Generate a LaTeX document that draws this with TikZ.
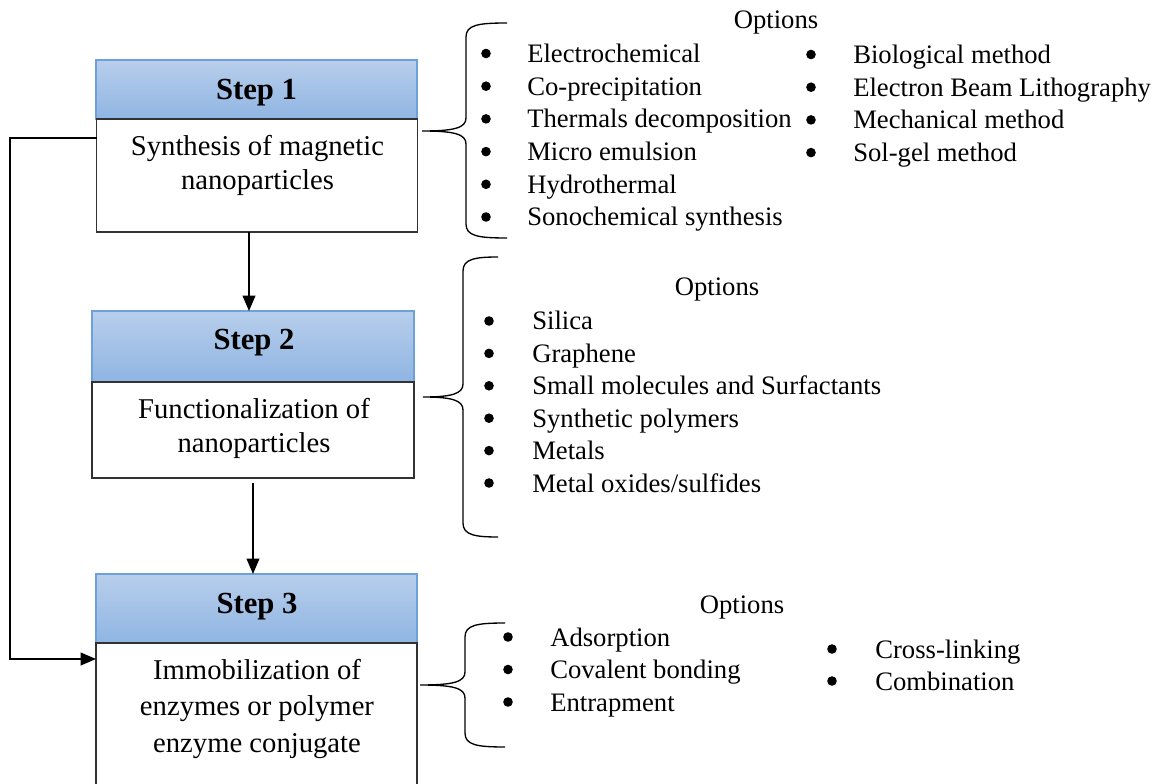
\documentclass[tikz,border=0pt]{standalone}
\usepackage{fontspec}
\setmainfont{Liberation Serif}
\usetikzlibrary{arrows.meta}
\definecolor{hdtop}{RGB}{184,206,235}
\definecolor{hdbot}{RGB}{143,181,227}
\definecolor{hdline}{RGB}{110,160,220}
\definecolor{boxline}{RGB}{50,50,50}
\newcommand\optbrace[6]{%
  \draw[bracep] (#1,#2) .. controls ({#3+12},#2) and (#3,{#2+2}) .. (#3,{#2+14})
    -- (#3,{#5-13}) .. controls (#3,{#5-3}) and ({#3-12},#5) .. (#4,#5)
    .. controls ({#3-12},#5) and (#3,{#5+3}) .. (#3,{#5+13})
    -- (#3,{#6-14}) .. controls (#3,{#6-2}) and ({#3+12},#6) .. (#1,#6);}
\begin{document}
\begin{tikzpicture}[x=0.75pt,y=-0.75pt,
  header/.style={draw=hdline, line width=0.8pt, top color=hdtop, bottom color=hdbot, inner sep=0, outer sep=0},
  bodybox/.style={draw=boxline, line width=0.9pt, fill=white, inner sep=0, outer sep=0},
  steptxt/.style={font=\fontsize{23}{27}\selectfont\bfseries, anchor=base, inner sep=0},
  bodytxt/.style={font=\fontsize{21.5}{26}\selectfont, anchor=base, inner sep=0},
  opttxt/.style={font=\fontsize{20}{24}\selectfont, anchor=base west, inner sep=0},
  opttitle/.style={font=\fontsize{20}{24}\selectfont, anchor=base, inner sep=0},
  conn/.style={line width=1.3pt, -{Triangle[length=11.5pt,width=9.5pt]}},
  bracep/.style={line width=1pt}
]
\useasboundingbox (0,0) rectangle (1154,784);
\clip (0,0) rectangle (1154,784);

% Step 1
\node[header, minimum width={321*0.75pt}, minimum height={59*0.75pt}] (h1) at (256.5,89.5) {};
\node[bodybox, minimum width={321*0.75pt}, minimum height={113*0.75pt}] (b1) at (257,175.5) {};
\node[steptxt] (s1) at (256.5,100) {Step 1};
\node[bodytxt] (t1a) at (257.5,156) {Synthesis of magnetic};
\node[bodytxt] (t1b) at (257.5,190) {nanoparticles};

% Step 2
\node[header, minimum width={322*0.75pt}, minimum height={71*0.75pt}] (h2) at (253,346.5) {};
\node[bodybox, minimum width={322*0.75pt}, minimum height={96*0.75pt}] (b2) at (253,430) {};
\node[steptxt] (s2) at (254,350) {Step 2};
\node[bodytxt] (t2a) at (254,419) {Functionalization of};
\node[bodytxt] (t2b) at (254,453) {nanoparticles};

% Step 3
\node[header, minimum width={321*0.75pt}, minimum height={69*0.75pt}] (h3) at (256.5,608.5) {};
\node[bodybox, minimum width={321*0.75pt}, minimum height={158*0.75pt}] (b3) at (256.5,722) {};
\node[steptxt] (s3) at (257,613) {Step 3};
\node[bodytxt] (t3a) at (257,679) {Immobilization of};
\node[bodytxt] (t3b) at (257,715) {enzymes or polymer};
\node[bodytxt] (t3c) at (257,752) {enzyme conjugate};

% connectors
\coordinate (ax) at (249,0);
\draw[conn] (b1.south -| ax) -- (h2.north -| ax);
\draw[conn] ([yshift=-4pt]b2.south) -- (h3.north -| b2.south);
\coordinate (fa) at (10,138);
\coordinate (fb) at (10,659);
\draw[conn] (b1.west |- fa) -- (fa) -- (fb) -- (b3.west |- fb);

% braces
\optbrace{507}{23}{466}{422}{131}{238}
\optbrace{498}{257}{463}{423}{397}{537}
\optbrace{505}{623}{465}{420}{685}{747}

% options 1
\node[opttitle] (o1) at (776,29) {Options};
\foreach \t [count=\i] in {Electrochemical, Co-precipitation, Thermals decomposition, Micro emulsion, Hydrothermal, Sonochemical synthesis} {
  \pgfmathsetmacro\yy{62.5+32.7*(\i-1)}
  \fill (486,\yy-9) circle[radius=4.8];
  \node[opttxt] (la\i) at (527,\yy) {\t};
}
\foreach \t [count=\i] in {Biological method, Electron Beam Lithography, Mechanical method, Sol-gel method} {
  \pgfmathsetmacro\yy{63.5+32.7*(\i-1)}
  \fill (811,\yy-9) circle[radius=4.8];
  \node[opttxt] (lb\i) at (853,\yy) {\t};
}

% options 2
\node[opttitle] (o2) at (717,296) {Options};
\foreach \t [count=\i] in {Silica, Graphene, Small molecules and Surfactants, Synthetic polymers, Metals, Metal oxides/sulfides} {
  \pgfmathsetmacro\yy{330+32.4*(\i-1)}
  \fill (489,\yy-9) circle[radius=4.8];
  \node[opttxt] (lc\i) at (532,\yy) {\t};
}

% options 3
\node[opttitle] (o3) at (742,613) {Options};
\foreach \t [count=\i] in {Adsorption, Covalent bonding, Entrapment} {
  \pgfmathsetmacro\yy{646+32.5*(\i-1)}
  \fill (508,\yy-9) circle[radius=4.8];
  \node[opttxt] (ld\i) at (550,\yy) {\t};
}
\foreach \t [count=\i] in {Cross-linking, Combination} {
  \pgfmathsetmacro\yy{658+32*(\i-1)}
  \fill (832,\yy-9) circle[radius=4.8];
  \node[opttxt] (le\i) at (875,\yy) {\t};
}
\end{tikzpicture}
\end{document}
